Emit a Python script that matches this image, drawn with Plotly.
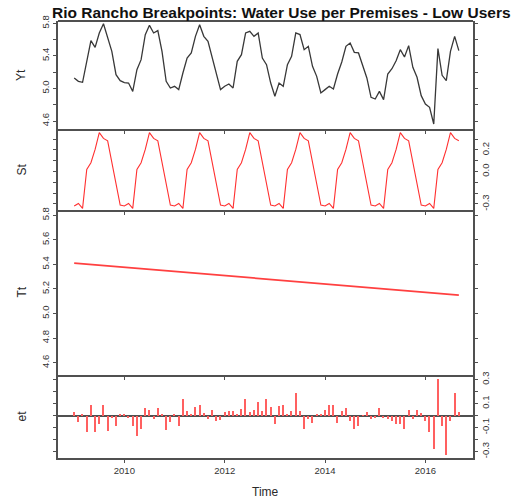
import plotly.graph_objects as go

# ---- monthly series, Jan 2009 .. Sep 2016 ----
start_year = 2009
n_months = 93

# observed water use per premises (Yt)
yt_values = [
    5.128, 5.087, 5.075, 5.332, 5.586, 5.504, 5.680, 5.794, 5.639, 5.455, 5.169, 5.095,
    5.071, 5.066, 4.964, 5.230, 5.353, 5.660, 5.774, 5.680, 5.709, 5.455, 5.087, 5.005,
    5.026, 4.985, 5.189, 5.373, 5.435, 5.639, 5.782, 5.639, 5.578, 5.373, 5.169, 4.985,
    5.026, 5.054, 5.005, 5.332, 5.414, 5.680, 5.700, 5.639, 5.680, 5.373, 5.291, 5.066,
    4.903, 5.066, 5.026, 5.291, 5.394, 5.680, 5.660, 5.475, 5.516, 5.271, 5.148, 4.944,
    4.985, 5.026, 4.993, 5.177, 5.324, 5.516, 5.557, 5.443, 5.435, 5.271, 5.128, 4.891,
    4.870, 4.964, 4.862, 5.177, 5.242, 5.340, 5.475, 5.385, 5.525, 5.259, 5.136, 4.911,
    4.809, 4.768, 4.563, 5.488, 5.161, 5.095, 5.455, 5.639, 5.463,
]

# seasonal component (St), one value per calendar month Jan..Dec
season_values = [-0.319, -0.295, -0.341, 0.020, 0.082, 0.205,
                 0.360, 0.307, 0.285, 0.082, -0.116, -0.310]

# trend component (Tt): single straight segment, no breakpoints
trend_times = [2009.0, 2016 + 8 / 12]
trend_values = [5.41, 5.15]

# remainder (et)
et_values = [
    0.030, -0.050, 0.005, -0.140, 0.085, -0.140, -0.070, 0.090, -0.130, -0.020, -0.090, 0.010,
    0.010, -0.020, -0.090, -0.170, -0.110, 0.065, 0.045, -0.030, 0.060, 0.010, -0.120, -0.050,
    0.010, -0.090, 0.140, 0.040, 0.010, 0.070, 0.085, 0.020, -0.030, 0.050, -0.045, -0.040,
    0.030, 0.035, 0.040, 0.010, 0.055, 0.140, 0.030, 0.050, 0.115, 0.035, 0.140, 0.070,
    -0.070, 0.080, 0.085, 0.010, 0.035, 0.185, 0.035, -0.110, -0.030, -0.060, 0.010, 0.005,
    0.045, 0.085, 0.085, -0.060, 0.035, 0.060, -0.045, -0.110, -0.090, 0.003, 0.030, -0.030,
    -0.020, 0.060, -0.020, -0.030, -0.045, -0.070, -0.070, -0.115, 0.050, -0.030, 0.050, 0.020,
    -0.045, -0.140, -0.275, 0.305, -0.090, -0.330, -0.045, 0.185, 0.030,
]

year_ticks = [2010, 2012, 2014, 2016]
level_ticks = [4.6, 4.8, 5.0, 5.2, 5.4, 5.6, 5.8]
small_ticks = [-0.3, -0.2, -0.1, 0.0, 0.1, 0.2, 0.3]

times = [start_year + i / 12 for i in range(n_months)]
st_series = [season_values[i % 12] for i in range(n_months)]

FONT = "Liberation Sans, Arial, sans-serif"
AX = "#505050"
RED = "#ff3030"

fig = go.Figure()
fig.add_trace(go.Scatter(x=times, y=yt_values, mode="lines",
                         line=dict(color="#383838", width=1.3),
                         xaxis="x", yaxis="y", showlegend=False))
fig.add_trace(go.Scatter(x=times, y=st_series, mode="lines",
                         line=dict(color=RED, width=1.1),
                         xaxis="x2", yaxis="y2", showlegend=False))
fig.add_trace(go.Scatter(x=trend_times, y=trend_values, mode="lines",
                         line=dict(color="#ff4040", width=1.8),
                         xaxis="x3", yaxis="y3", showlegend=False))
fig.add_trace(go.Bar(x=times, y=et_values, width=0.025,
                     marker=dict(color="#ff6060", line=dict(width=0)),
                     xaxis="x4", yaxis="y4", showlegend=False))

x_range = [2008.677, 2016.949]
tick_font = dict(family=FONT, size=9.5, color="#333333")


def xaxis(anchor, labels):
    # only the bottom edge of each panel carries an axis line
    return dict(anchor=anchor, domain=[0, 1], range=x_range,
                tickvals=year_ticks, ticktext=[str(y) for y in year_ticks],
                showticklabels=labels, ticks="outside", ticklen=3,
                tickcolor=AX, tickwidth=1, showline=True, linecolor=AX,
                linewidth=2, mirror=False, showgrid=False, zeroline=False,
                tickfont=tick_font)


def yaxis(anchor, domain, rng, vals, text, side, zeroline=False):
    return dict(anchor=anchor, domain=domain, range=rng, tickvals=vals,
                ticktext=text, side=side, ticks="outside", ticklen=3,
                tickcolor=AX, tickwidth=1, showline=True, linecolor=AX,
                linewidth=1.8, mirror="ticks", showgrid=False,
                zeroline=zeroline, zerolinecolor=AX, zerolinewidth=1.8,
                tickangle=-90, tickfont=tick_font)


H = 437.0
d_et = [0, 83 / H]
d_tt = [83 / H, 248 / H]
d_st = [248 / H, 329 / H]
d_yt = [329 / H, 1]

fig.update_layout(
    width=515, height=503,
    margin=dict(l=58, r=42, t=21, b=45),
    paper_bgcolor="white", plot_bgcolor="white",
    font=dict(family=FONT, color="#2a2a2a"),
    bargap=0,
    xaxis=xaxis("y", False),
    xaxis2=xaxis("y2", False),
    xaxis3=xaxis("y3", False),
    xaxis4=xaxis("y4", True),
    yaxis=yaxis("x", d_yt, [4.502, 5.827], level_ticks,
                ["4.6", "", "5.0", "", "5.4", "", "5.8"], "left"),
    yaxis2=yaxis("x2", d_st, [-0.356, 0.394], small_ticks,
                 ["-0.3", "", "", "0.0", "", "0.2", ""], "right"),
    yaxis3=yaxis("x3", d_tt, [4.500, 5.842], level_ticks,
                 ["4.6", "4.8", "5.0", "5.2", "5.4", "5.6", "5.8"], "left"),
    yaxis4=yaxis("x4", d_et, [-0.354, 0.3375], small_ticks,
                  ["-0.3", "", "-0.1", "", "0.1", "", "0.3"], "right",
                  zeroline=True),
)

# top edge of the uppermost panel
fig.add_shape(type="line", xref="paper", yref="paper", x0=0, x1=1, y0=1, y1=1,
              line=dict(color=AX, width=2))

# panel labels on the left, rotated
panel_labels = [("Yt", d_yt), ("St", d_st), ("Tt", d_tt), ("et", d_et)]
for name, dom in panel_labels:
    fig.add_annotation(text=name, xref="paper", yref="paper",
                       x=(21 - 58) / 415, y=(dom[0] + dom[1]) / 2,
                       textangle=-90, showarrow=False,
                       font=dict(family=FONT, size=12, color="#2a2a2a"),
                       xanchor="center", yanchor="middle")

fig.add_annotation(text="Time", xref="paper", yref="paper",
                   x=0.5, y=(458 - 492) / H, showarrow=False,
                   font=dict(family=FONT, size=12, color="#2a2a2a"),
                   xanchor="center", yanchor="middle")

fig.add_annotation(text="<b>Rio Rancho Breakpoints: Water Use per Premises - Low Users</b>",
                   xref="paper", yref="paper",
                   x=(281.7 - 58) / 415, y=(458 - 12.5) / H, showarrow=False,
                   font=dict(family=FONT, size=15.5, color="#111111"),
                   xanchor="center", yanchor="middle")

fig.write_html("out.html")
